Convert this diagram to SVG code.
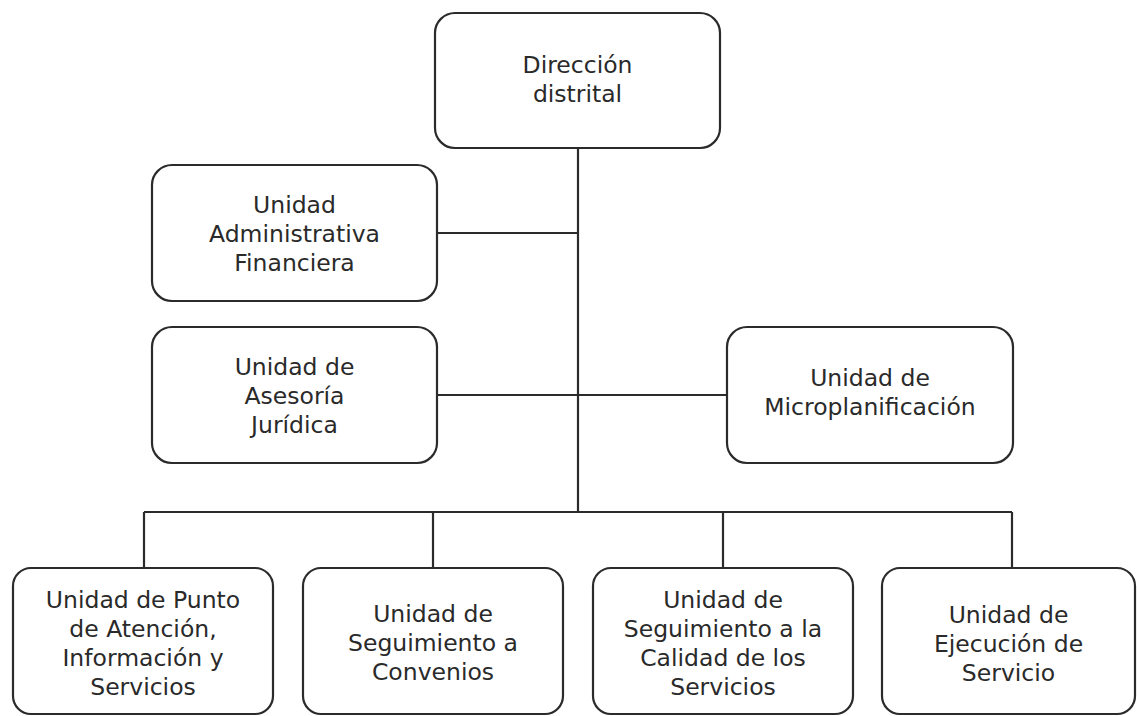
<svg xmlns="http://www.w3.org/2000/svg" width="1137" height="716" viewBox="0 0 1137 716">
<style>
.box{fill:#fff;stroke:#2b2b2b;stroke-width:2.2}
.ln{stroke:#2b2b2b;stroke-width:2.2;fill:none}
text{font-family:"DejaVu Sans","Verdana",sans-serif;font-size:23.5px;fill:#2a2a2a;text-anchor:middle}
</style>
<rect width="1137" height="716" fill="#fff"/>
<g id="connectors">
<line class="ln" x1="578" y1="148" x2="578" y2="512"/>
<line class="ln" x1="437" y1="233" x2="578" y2="233"/>
<line class="ln" x1="437" y1="395" x2="727" y2="395"/>
<line class="ln" x1="144" y1="512" x2="1012" y2="512"/>
<line class="ln" x1="144" y1="512" x2="144" y2="568"/>
<line class="ln" x1="433" y1="512" x2="433" y2="568"/>
<line class="ln" x1="723" y1="512" x2="723" y2="568"/>
<line class="ln" x1="1012" y1="512" x2="1012" y2="568"/>
</g>
<g id="direccion">
<rect class="box" x="435" y="13" width="285" height="135" rx="20"/>
<text x="577.5" y="73">Dirección</text>
<text x="577.5" y="102">distrital</text>
</g>
<g id="administrativa">
<rect class="box" x="152" y="165" width="285" height="136" rx="20"/>
<text x="294.5" y="213">Unidad</text>
<text x="294.5" y="242">Administrativa</text>
<text x="294.5" y="271">Financiera</text>
</g>
<g id="asesoria">
<rect class="box" x="152" y="327" width="285" height="136" rx="20"/>
<text x="294.5" y="375">Unidad de</text>
<text x="294.5" y="404">Asesoría</text>
<text x="294.5" y="433">Jurídica</text>
</g>
<g id="microplanificacion">
<rect class="box" x="727" y="327" width="286" height="136" rx="20"/>
<text x="870" y="386">Unidad de</text>
<text x="870" y="415">Microplanificación</text>
</g>
<g id="punto-atencion">
<rect class="box" x="13" y="568" width="260" height="146" rx="18"/>
<text x="143" y="608">Unidad de Punto</text>
<text x="143" y="637">de Atención,</text>
<text x="143" y="666">Información y</text>
<text x="143" y="695">Servicios</text>
</g>
<g id="seguimiento-convenios">
<rect class="box" x="303" y="568" width="260" height="146" rx="18"/>
<text x="433" y="622">Unidad de</text>
<text x="433" y="651">Seguimiento a</text>
<text x="433" y="680">Convenios</text>
</g>
<g id="seguimiento-calidad">
<rect class="box" x="593" y="568" width="260" height="146" rx="18"/>
<text x="723" y="608">Unidad de</text>
<text x="723" y="637">Seguimiento a la</text>
<text x="723" y="666">Calidad de los</text>
<text x="723" y="695">Servicios</text>
</g>
<g id="ejecucion-servicio">
<rect class="box" x="882" y="568" width="253" height="146" rx="18"/>
<text x="1008.5" y="623">Unidad de</text>
<text x="1008.5" y="652">Ejecución de</text>
<text x="1008.5" y="681">Servicio</text>
</g>
</svg>
